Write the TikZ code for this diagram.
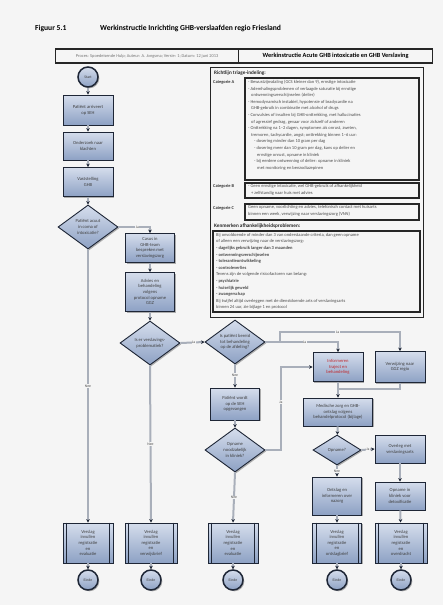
\documentclass[tikz,border=0pt]{standalone}
\usepackage{fontspec}
\setmainfont{Carlito}
\usetikzlibrary{shapes.geometric,arrows.meta,shadows,calc}
\definecolor{boxtop}{HTML}{D5DDEC}
\definecolor{boxbot}{HTML}{8DA1C4}
\definecolor{edgec}{HTML}{1E2636}
\definecolor{wirec}{HTML}{A9AFBA}
\definecolor{bgc}{HTML}{F5F5F5}
\definecolor{redtxt}{HTML}{C0282D}
\tikzset{
  base/.style={draw=edgec, line width=0.9pt, top color=boxtop, bottom color=boxbot,
    align=center, font=\fontsize{4.6}{5.6}\selectfont, text=black!75, inner sep=1pt,
    drop shadow={shadow xshift=1.3pt, shadow yshift=-1.3pt, fill=black!60}},
  procbox/.style={base, rectangle},
  decbox/.style={base, diamond, aspect=1.4, inner sep=0pt},
  termbox/.style={base, circle, minimum size=20pt, line width=1.5pt, inner sep=0pt,
    font=\fontsize{3.8}{4.5}\selectfont},
  predef/.style={base, rectangle, minimum width=50pt, minimum height=40pt},
  wire/.style={draw=wirec, line width=2pt, -{Stealth[length=3.5pt,width=3.5pt,color=edgec]}},
  plainwire/.style={draw=wirec, line width=2pt},
  lab/.style={fill=bgc, inner sep=0.6pt, font=\fontsize{3.8}{4}\selectfont, text=black!70},
  ptext/.style={align=left, inner sep=0pt, font=\fontsize{4.5}{6.6}\selectfont, text=black!70},
  pbox/.style={draw=black!85, line width=1.3pt},
  phead/.style={anchor=west, inner sep=0pt, font=\bfseries\fontsize{5.2}{6}\selectfont, text=black!85},
  catlab/.style={anchor=north west, inner sep=0pt, font=\bfseries\fontsize{4.4}{5}\selectfont, text=black!80},
}
\begin{document}
\begin{tikzpicture}[x=1pt,y=-1pt]
\useasboundingbox[fill=bgc] (0,0) rectangle (443,605);

% title
\node[anchor=west, inner sep=0pt, font=\bfseries\fontsize{7.6}{9}\selectfont] (fig) at (35,28) {Figuur 5.1};
\node[anchor=west, inner sep=0pt, font=\bfseries\fontsize{7.6}{9}\selectfont] (title) at (100,28) {Werkinstructie Inrichting GHB-verslaafden regio Friesland};

% header
\node[draw=black!85, line width=1.2pt, minimum width=183pt, minimum height=14pt, inner sep=1pt,
  font=\fontsize{4.4}{5}\selectfont, text=black!55, anchor=west] (hdrL) at (55,56)
  {Proces: Spoedeisende Hulp; Auteur: A. Jongsma; Versie: 1; Datum: 12 juni 2013};
\node[draw=black!85, line width=1.2pt, minimum width=194pt, minimum height=14pt, inner sep=1pt,
  font=\bfseries\fontsize{6.3}{7}\selectfont, anchor=west] (hdrR) at (238,56)
  {Werkinstructie Acute GHB intoxicatie en GHB Verslaving};

% right panel
\draw[draw=black!85, line width=1pt] (210,67) rectangle (423,317);
\node[phead] (head1) at (214,73) {Richtlijn triage-indeling:};
\node[catlab] (labA) at (213,80) {Categorie A};
\node[catlab] (labB) at (213,184) {Categorie B};
\node[catlab] (labC) at (213,206) {Categorie C};
\draw[pbox] (245,78) rectangle (419,180);
\draw[pbox] (245,183) rectangle (419,198);
\draw[pbox] (245,204) rectangle (419,220);
\node[ptext, anchor=north west] (txtA) at (248,80) {%
- Bewustzijnsdaling (GCS kleiner dan 9), ernstige intoxicatie\\
- Ademhalingsproblemen of verlaagde saturatie bij ernstige\\
\hspace*{3pt}ontwenningsverschijnselen (delier)\\
- Hemodynamisch instabiel, hypotensie of bradycardie na\\
\hspace*{3pt}GHB-gebruik in combinatie met alcohol of drugs\\
- Convulsies of insulten bij GHB-onttrekking, met hallucinaties\\
\hspace*{3pt}of agressief gedrag, gevaar voor zichzelf of anderen\\
- Onttrekking na 1--2 dagen, symptomen als onrust, zweten,\\
\hspace*{3pt}tremoren, tachycardie, angst; onttrekking binnen 1--6 uur:\\
\hspace*{6pt}- dosering minder dan 10 gram per dag\\
\hspace*{6pt}- dosering meer dan 10 gram per dag, kans op delier en\\
\hspace*{9pt}ernstige onrust, opname in kliniek\\
\hspace*{6pt}- bij eerdere ontwenning of delier: opname in kliniek\\
\hspace*{9pt}met monitoring en benzodiazepinen};
\node[ptext, anchor=north west] (txtB) at (248,184.5) {%
- Geen ernstige intoxicatie, wel GHB-gebruik of afhankelijkheid\\
\hspace*{3pt}+ zelfstandig naar huis met advies};
\node[ptext, anchor=north west] (txtC) at (248,205.5) {%
Geen opname, voorlichting en advies, telefonisch contact met huisarts\\
binnen een week, verwijzing naar verslavingszorg (VNN)};
\node[phead] (head2) at (214,226) {Kenmerken afhankelijkheidsproblemen:};
\draw[pbox] (213,231) rectangle (420,312);
\node[ptext, anchor=north west] (txtD) at (216,233) {%
Bij onvoldoende of minder dan 3 van onderstaande criteria, dan geen opname\\
of alleen een verwijzing naar de verslavingszorg:\\
\textbf{- dagelijks gebruik langer dan 3 maanden}\\
\textbf{- ontwenningsverschijnselen}\\
\textbf{- tolerantieontwikkeling}\\
\textbf{- controleverlies}\\
Tevens zijn de volgende risicofactoren van belang:\\
\textbf{- psychiatrie}\\
\textbf{- huiselijk geweld}\\
\textbf{- zwangerschap}\\
Bij twijfel altijd overleggen met de dienstdoende arts of verslavingsarts\\
binnen 24 uur, zie bijlage 1 en protocol};

% left column
\node[termbox] (start) at (88,77) {Start};
\node[procbox, minimum width=50pt, minimum height=30pt] (b1) at (88,110) {Patiënt arriveert\\op SEH};
\node[procbox, minimum width=50pt, minimum height=28pt] (b2) at (88,146) {Onderzoek naar\\klachten};
\node[procbox, minimum width=50pt, minimum height=29pt] (b3) at (88,182) {Vaststelling\\GHB};
\node[decbox, minimum width=60pt, minimum height=44pt] (d1) at (88,227) {Patiënt acuut\\in coma of\\intoxicatie?};

% second column
\node[procbox, minimum width=49pt, minimum height=29pt] (b4) at (150,248) {Casus in\\GHB-team\\bespreken met\\verslavingszorg};
\node[procbox, minimum width=49pt, minimum height=39pt] (b5) at (150,292) {Advies en\\behandeling\\volgens\\protocol opname\\GGZ};
\node[decbox, minimum width=60pt, minimum height=44pt] (d2) at (150,343) {Is er verslavings-\\problematiek?};

% third column
\node[decbox, minimum width=60pt, minimum height=44pt] (d3) at (235,342) {Is patiënt bereid\\tot behandeling\\op de afdeling?};
\node[procbox, minimum width=49pt, minimum height=32pt] (bext) at (235,404) {Patiënt wordt\\op de SEH\\opgevangen};
\node[decbox, minimum width=60pt, minimum height=44pt] (d5) at (235,450) {Opname\\noodzakelijk\\in kliniek?};

% right columns
\node[procbox, minimum width=50pt, minimum height=29pt, text=redtxt] (red) at (338,367) {Informeren\\traject en\\behandeling};
\node[procbox, minimum width=50pt, minimum height=31pt] (rbox) at (400,367) {Verwijzing naar\\GGZ regio};
\node[procbox, minimum width=69pt, minimum height=28pt] (med) at (338,412) {Medische zorg en GHB-\\ontslag volgens\\behandelprotocol (bijlage)};
\node[decbox, minimum width=48pt, minimum height=30pt] (d4) at (337,450) {Opname?};
\node[procbox, minimum width=50pt, minimum height=28pt] (ovl) at (400,449) {Overleg met\\verslavingsarts};
\node[procbox, minimum width=50pt, minimum height=28pt] (opn) at (400,496) {Opname in\\kliniek voor\\detoxificatie};
\node[procbox, minimum width=49pt, minimum height=38pt] (ont) at (337,496) {Ontslag en\\informeren over\\nazorg};

% bottom row
\node[predef] (pa) at (88,543) {Verslag\\invullen\\registratie\\en\\evaluatie};
\node[predef, minimum width=52pt] (pb) at (151,543) {Verslag\\invullen\\registratie\\en\\verwijsbrief};
\node[predef] (pc) at (233,543) {Verslag\\invullen\\registratie\\en\\evaluatie};
\node[predef, minimum width=49pt] (pd) at (337,543) {Verslag\\invullen\\registratie\\en\\ontslagbrief};
\node[predef, minimum width=52pt] (pe) at (401,543) {Verslag\\invullen\\registratie\\en\\overdracht};
\foreach \n in {pa,pb,pc,pd,pe}{
  \draw[draw=edgec, line width=0.7pt] ([xshift=4pt]\n.north west) -- ([xshift=4pt]\n.south west);
  \draw[draw=edgec, line width=0.7pt] ([xshift=-4pt]\n.north east) -- ([xshift=-4pt]\n.south east);
}
\node[termbox] (ea) at (88,580) {Einde};
\node[termbox] (eb) at (151,580) {Einde};
\node[termbox] (ec) at (233,580) {Einde};
\node[termbox] (ed) at (337,580) {Einde};
\node[termbox] (ee) at (401,580) {Einde};

% coordinates
\coordinate (split) at (280,342);
\coordinate (splitup) at (280,332);
\coordinate (join) at (338,389);
\coordinate (d5r) at (281,450);

% connectors
\draw[wire] (start) -- (b1);
\draw[wire] (b1) -- (b2);
\draw[wire] (b2) -- (b3);
\draw[wire] (b3) -- (d1);
\draw[wire] (d1.east) -| node[lab, pos=0.3] {Ja} (b4.north);
\draw[wire] (d1.south) -- node[lab, pos=0.5] {Nee} (pa.north);
\draw[wire] (b4) -- (b5);
\draw[wire] (b5) -- (d2);
\draw[wire] (d2.south) -- node[lab, pos=0.5] {Nee} (pb.north);
\draw[wire] (d2.east) -- node[lab, pos=0.55] {Ja} (d3.west);
\draw[wire] (d3.east) -| node[lab, pos=0.27] {Ja} (red.north);
\draw[wire] (split) -- (splitup) -| node[lab, pos=0.24] {Ja} (rbox.north);
\draw[wire] (d3.south) -- node[lab, pos=0.45] {Nee} (bext.north);
\draw[plainwire] (rbox.south) |- (join);
\draw[wire] (red) -- (med);
\draw[wire] (med) -- (d4);
\draw[wire] (d4.east) -- node[lab, pos=0.5] {Ja} (ovl.west);
\draw[wire] (d4.south) -- node[lab, pos=0.5] {Nee} (ont.north);
\draw[wire] (ovl) -- (opn);
\draw[wire] (opn) -- (pe);
\draw[wire] (ont) -- (pd);
\draw[wire] (bext) -- (d5);
\draw[wire] (d5.east) -- (d5r) |- node[lab, pos=0.29] {Ja} (red.west);
\draw[wire] (d5.south) -- node[lab, pos=0.5] {Nee} (pc.north);
\draw[wire] (pa) -- (ea);
\draw[wire] (pb) -- (eb);
\draw[wire] (pc) -- (ec);
\draw[wire] (pd) -- (ed);
\draw[wire] (pe) -- (ee);
\end{tikzpicture}
\end{document}
